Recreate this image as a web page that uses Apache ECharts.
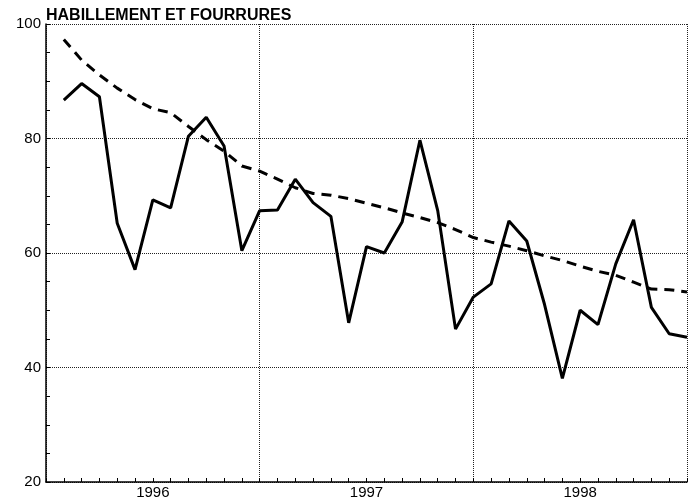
<!DOCTYPE html>
<html>
<head>
<meta charset="utf-8">
<script src="https://cdn.jsdelivr.net/npm/echarts@6/dist/echarts.min.js"></script>
<style>html,body{margin:0;padding:0;background:#fff}#c{width:694px;height:500px}</style>
</head>
<body>
<div id="c"></div>
<script>
var titleText = 'HABILLEMENT ET FOURRURES';
var yearLabels = ['1996', '1997', '1998'];
// monthly values Jan 1996 .. Dec 1998
var seriesValues = [86.7, 89.6, 87.3, 65.2, 57.1, 69.3, 67.9, 80.4, 83.7, 78.7, 60.4, 67.4,
                    67.5, 72.9, 68.8, 66.4, 47.8, 61.1, 60.0, 65.4, 79.7, 67.4, 46.7, 52.3,
                    54.6, 65.6, 62.1, 51.0, 38.1, 50.0, 47.5, 58.1, 65.8, 50.5, 45.9, 45.3];
var trendValues = [97.3, 93.7, 91.1, 88.8, 86.8, 85.2, 84.5, 82.1, 79.8, 77.8, 75.2, 74.3,
                   72.9, 71.4, 70.4, 70.1, 69.5, 68.7, 67.9, 67.0, 66.2, 65.3, 64.1, 62.7,
                   61.9, 61.2, 60.4, 59.5, 58.7, 57.7, 56.8, 56.1, 54.9, 53.7, 53.6, 53.2];
var yTicks = [20, 40, 60, 80, 100];

function toPairs(arr) { return arr.map(function (v, i) { return [i + 1, v]; }); }

var chart = echarts.init(document.getElementById('c'), null, {renderer: 'canvas'});
var font = 'Liberation Sans, Arial, sans-serif';
chart.setOption({
  animation: false,
  backgroundColor: '#fff',
  graphic: [{
    type: 'text', x: 46, y: 24,
    style: {text: titleText, fill: '#000', align: 'left', verticalAlign: 'bottom',
            fontFamily: font, fontSize: 16, fontWeight: 'bold'}
  }],
  grid: {left: 46, right: 7, top: 24, bottom: 16, containLabel: false},
  xAxis: [{
    type: 'value', min: 0, max: 36, interval: 1,
    axisLine: {show: true, lineStyle: {color: '#000', width: 1.5}},
    axisTick: {show: true, inside: true, length: 4, lineStyle: {color: '#000'}},
    splitLine: {show: false},
    axisLabel: {
      margin: 3, fontFamily: font, fontSize: 15, color: '#000',
      formatter: function (v) {
        if (v % 12 === 6) return yearLabels[(v - 6) / 12];
        return '';
      }
    }
  }, {
    type: 'value', min: 0, max: 36, interval: 12, position: 'bottom',
    axisLine: {show: false}, axisTick: {show: false}, axisLabel: {show: false},
    splitLine: {show: true, lineStyle: {color: '#222', type: [1, 1], width: 1}}
  }],
  yAxis: {
    type: 'value', min: 20, max: 100, interval: 20,
    axisLine: {show: true, lineStyle: {color: '#000', width: 1.5}},
    axisTick: {show: true, inside: true, length: 4, lineStyle: {color: '#000'}},
    minorTick: {show: true, splitNumber: 4, length: 4, lineStyle: {color: '#000'}},
    splitLine: {show: true, lineStyle: {color: '#222', type: [1, 1], width: 1}},
    axisLabel: {
      margin: 5, fontFamily: font, fontSize: 15, color: '#000',
      formatter: function (v) { return yTicks.indexOf(v) >= 0 ? String(v) : ''; }
    }
  },
  series: [{
    type: 'line', data: toPairs(seriesValues), xAxisIndex: 0,
    symbol: 'none', lineStyle: {color: '#000', width: 3}, z: 3
  }, {
    type: 'line', data: toPairs(trendValues), xAxisIndex: 0,
    symbol: 'none', smooth: false,
    lineStyle: {color: '#000', width: 3, type: [10, 7]}, z: 2
  }]
});
</script>
</body>
</html>
